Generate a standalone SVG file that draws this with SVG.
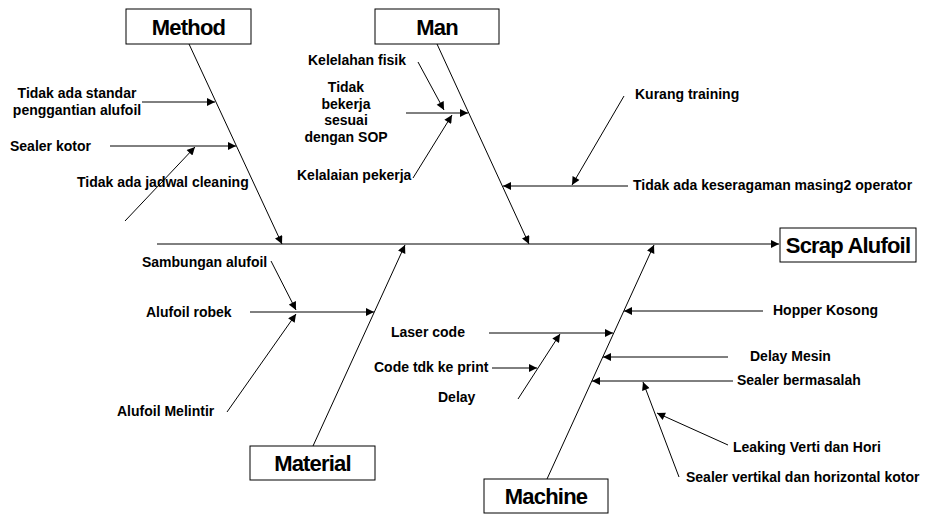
<svg xmlns="http://www.w3.org/2000/svg" width="925" height="514" viewBox="0 0 925 514">
<style>
.bg{fill:#fff}
.box{fill:#fff;stroke:#000;stroke-width:1}
.hd{font-family:"Liberation Sans",Arial,sans-serif;font-weight:bold;font-size:22px;letter-spacing:-0.8px;text-anchor:middle;fill:#000}
.t{font-family:"Liberation Sans",Arial,sans-serif;font-weight:bold;font-size:14px;fill:#000}
.m{text-anchor:middle}
.ln{stroke:#000;stroke-width:1;fill:none}
.ar{stroke:#000;stroke-width:1;fill:none;marker-end:url(#a)}
</style>
<defs>
<marker id="a" viewBox="0 0 10 10" refX="10" refY="5" markerWidth="10" markerHeight="8" orient="auto" markerUnits="userSpaceOnUse"><path d="M0,0 L10,5 L0,10 z" fill="#000"/></marker>
</defs>
<rect class="bg" x="0" y="0" width="925" height="514"/>
<g id="connectors">
<line class="ar" x1="157" y1="244" x2="779" y2="244"/>
<line class="ar" x1="189" y1="44" x2="282" y2="244"/>
<line class="ar" x1="142" y1="102" x2="215" y2="102"/>
<line class="ar" x1="110" y1="146" x2="236" y2="146"/>
<line class="ar" x1="125" y1="221" x2="195" y2="147"/>
<line class="ar" x1="437" y1="44" x2="529" y2="244"/>
<line class="ar" x1="406" y1="113" x2="468" y2="113"/>
<line class="ar" x1="418" y1="62" x2="444" y2="110"/>
<line class="ar" x1="413" y1="178" x2="452" y2="115"/>
<line class="ar" x1="628" y1="186" x2="503" y2="186"/>
<line class="ar" x1="624" y1="96" x2="572" y2="185"/>
<line class="ar" x1="313" y1="446" x2="405" y2="245"/>
<line class="ar" x1="250" y1="312" x2="374" y2="312"/>
<line class="ar" x1="271" y1="261" x2="296" y2="310"/>
<line class="ar" x1="227" y1="412" x2="296" y2="314"/>
<line class="ar" x1="547" y1="479" x2="654" y2="245"/>
<line class="ar" x1="763" y1="311" x2="624" y2="311"/>
<line class="ar" x1="489" y1="333" x2="613" y2="333"/>
<line class="ar" x1="728" y1="357" x2="603" y2="357"/>
<line class="ar" x1="733" y1="381" x2="592" y2="381"/>
<line class="ar" x1="492" y1="368" x2="537" y2="368"/>
<line class="ar" x1="518" y1="399" x2="560" y2="334"/>
<line class="ar" x1="728" y1="445" x2="657" y2="413"/>
<line class="ar" x1="679" y1="477" x2="643" y2="382"/>
</g>
<g id="method"><rect class="box" x="126" y="9" width="125" height="35"/><text class="hd" x="188.5" y="34.5">Method</text></g>
<g id="man"><rect class="box" x="375" y="9" width="124" height="35"/><text class="hd" x="437" y="34.5">Man</text></g>
<g id="material"><rect class="box" x="250" y="446" width="125" height="34"/><text class="hd" x="312.5" y="471">Material</text></g>
<g id="machine"><rect class="box" x="484" y="479" width="124" height="34"/><text class="hd" x="546" y="504">Machine</text></g>
<g id="scrap"><rect class="box" x="780" y="228" width="136" height="34"/><text class="hd" x="848" y="253">Scrap Alufoil</text></g>
<g id="labels">
<text class="t m" x="77" y="98">Tidak ada standar</text>
<text class="t m" x="77" y="115">penggantian alufoil</text>
<text class="t" x="10" y="151">Sealer kotor</text>
<text class="t" x="77" y="187">Tidak ada jadwal cleaning</text>
<text class="t" x="308" y="65">Kelelahan fisik</text>
<text class="t m" x="346" y="92">Tidak</text>
<text class="t m" x="346" y="108.5">bekerja</text>
<text class="t m" x="346" y="125">sesuai</text>
<text class="t m" x="346" y="141.5">dengan SOP</text>
<text class="t" x="297" y="180">Kelalaian pekerja</text>
<text class="t" x="635" y="99">Kurang training</text>
<text class="t" x="633" y="190">Tidak ada keseragaman masing2 operator</text>
<text class="t" x="142" y="267">Sambungan alufoil</text>
<text class="t" x="146" y="317">Alufoil robek</text>
<text class="t" x="117" y="416">Alufoil Melintir</text>
<text class="t" x="391" y="337">Laser code</text>
<text class="t" x="374" y="372">Code tdk ke print</text>
<text class="t" x="438" y="402">Delay</text>
<text class="t" x="773" y="315">Hopper Kosong</text>
<text class="t" x="750" y="361">Delay Mesin</text>
<text class="t" x="737" y="385">Sealer bermasalah</text>
<text class="t" x="733" y="452">Leaking Verti dan Hori</text>
<text class="t" x="686" y="482">Sealer vertikal dan horizontal kotor</text>
</g>
</svg>
